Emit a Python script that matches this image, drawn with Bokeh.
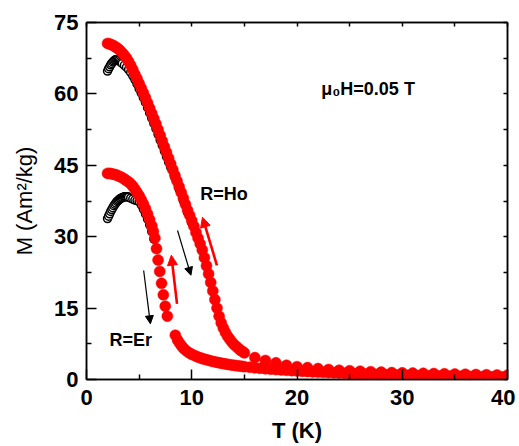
from bokeh.plotting import figure
from bokeh.models import LinearAxis, FixedTicker, Arrow, NormalHead, Range1d, Label
from bokeh.embed import file_html
from bokeh.resources import INLINE

# ---------------- data ----------------
# R=Ho, field-cooled (red filled)
ho_fc_T = [2.0, 2.2, 2.4, 2.6, 2.8, 3.0, 3.2, 3.4, 3.6, 3.8, 4.0, 4.2, 4.4, 4.6, 4.8,
           5.0, 5.2, 5.4, 5.6, 5.8, 6.0, 6.2, 6.4, 6.6, 6.8, 7.0, 7.2, 7.4, 7.6, 7.8,
           8.0, 8.2, 8.4, 8.6, 8.8, 9.0, 9.2, 9.4, 9.6, 9.8, 10.0, 10.2, 10.4, 10.6, 10.8,
           11.0, 11.2, 11.4, 11.6, 11.8, 12.0, 12.2, 12.4, 12.6, 12.8, 13.0, 13.2, 13.4,
           13.6, 13.8, 14.0, 14.2, 14.4, 14.6, 14.8, 15.0,
           16, 17, 18, 19, 20, 21, 22, 23, 24, 25, 26, 27, 28, 29, 30,
           31, 32, 33, 34, 35, 36, 37, 38, 39, 40]
ho_fc_M = [70.6, 70.5, 70.3, 70.1, 69.8, 69.5, 69.1, 68.6, 68.1, 67.5, 66.8, 66.0, 65.1, 64.1, 63.2,
           62.2, 61.2, 60.2, 59.2, 58.1, 57.0, 55.9, 54.8, 53.7, 52.5, 51.3, 50.1, 48.9, 47.7, 46.5,
           45.3, 44.1, 42.9, 41.7, 40.5, 39.3, 38.1, 36.8, 35.6, 34.5, 33.4, 32.2, 30.9, 29.7, 28.5,
           27.2, 25.6, 23.9, 22.2, 20.4, 18.6, 16.8, 15.0, 13.3, 11.9, 10.8, 9.9, 9.1,
           8.5, 7.9, 7.4, 7.0, 6.6, 6.2, 5.9, 5.6,
           4.6, 4.0, 3.5, 3.0, 2.7, 2.5, 2.3, 2.1, 1.95, 1.85, 1.75, 1.65, 1.55, 1.45, 1.4,
           1.35, 1.3, 1.25, 1.2, 1.15, 1.1, 1.05, 1.0, 0.95, 0.9]

# R=Ho, zero-field-cooled (black open)
ho_zfc_T = [2.0, 2.1, 2.2, 2.3, 2.4, 2.5, 2.6, 2.7, 2.8, 2.9, 3.0, 3.1, 3.2, 3.3, 3.4,
            3.6, 3.8, 4.0, 4.2, 4.4, 4.6, 4.8, 5.0, 5.2, 5.4, 5.6, 5.8, 6.0, 6.2, 6.4,
            6.6, 6.8, 7.0, 7.2, 7.4, 7.6, 7.8, 8.0, 8.4, 8.8, 9.2, 9.6, 10.0]
ho_zfc_M = [64.8, 65.3, 65.7, 66.1, 66.4, 66.7, 66.9, 67.1, 67.2, 67.2, 67.1, 67.0, 66.8, 66.6, 66.4,
            66.0, 65.6, 65.1, 64.5, 63.8, 63.0, 62.1, 61.1, 60.2, 59.2, 58.2, 57.1, 56.0, 54.9, 53.8,
            52.7, 51.5, 50.3, 49.2, 48.0, 46.8, 45.7, 44.6, 42.4, 40.0, 37.6, 35.1, 32.9]

# R=Er, field-cooled (red filled)
er_fc_T = [2.0, 2.2, 2.4, 2.6, 2.8, 3.0, 3.2, 3.4, 3.6, 3.8, 4.0, 4.2, 4.4, 4.6, 4.8,
           5.0, 5.2, 5.4, 5.6, 5.8, 6.0, 6.2, 6.35, 6.5,
           6.65, 6.8, 6.96, 7.13, 7.3, 7.48, 7.68,
           8.44, 8.65, 8.85, 9.05, 9.25, 9.5, 9.75, 10.0, 10.25, 10.5, 10.75, 11.0, 11.25,
           11.5, 11.75, 12.0, 12.25, 12.5, 12.75, 13.0, 13.25, 13.5, 13.75, 14.0, 14.25,
           14.5, 14.75, 15.0, 15.5, 16.0, 16.5, 17.0, 17.5, 18.0, 18.5, 19.0, 19.5, 20.0,
           20.5, 21.0, 21.5, 22.0, 22.5, 23.0, 23.5, 24.0, 24.5, 25.0, 25.5, 26.0, 26.5,
           27.0, 27.5, 28.0, 28.5, 29.0, 29.5, 30.0, 30.5, 31.0, 31.5, 32.0, 32.5, 33.0,
           33.5, 34.0, 34.5, 35.0, 35.5, 36.0, 36.5, 37.0, 37.5, 38.0, 38.5, 39.0, 39.5, 40.0]
er_fc_M = [43.3, 43.3, 43.2, 43.1, 43.0, 42.8, 42.6, 42.4, 42.1, 41.8, 41.5, 41.1, 40.6, 40.0, 39.3,
           38.6, 37.8, 36.9, 35.9, 34.8, 33.6, 32.3, 31.1, 29.7,
           27.5, 25.1, 22.7, 20.2, 17.8, 15.4, 13.3,
           9.3, 8.3, 7.6, 7.0, 6.5, 6.0, 5.6, 5.3, 5.05, 4.8, 4.6, 4.4, 4.25,
           4.1, 3.95, 3.8, 3.68, 3.56, 3.45, 3.35, 3.25, 3.15, 3.07, 2.99, 2.91,
           2.84, 2.77, 2.7, 2.58, 2.46, 2.36, 2.26, 2.17, 2.08, 2.0, 1.93, 1.86, 1.79,
           1.72, 1.66, 1.6, 1.55, 1.5, 1.45, 1.4, 1.35, 1.3, 1.26, 1.22, 1.18, 1.14,
           1.1, 1.06, 1.03, 1.0, 0.97, 0.94, 0.91, 0.88, 0.86, 0.83, 0.81, 0.79, 0.77,
           0.75, 0.73, 0.71, 0.69, 0.67, 0.65, 0.63, 0.62, 0.6, 0.58, 0.57, 0.55, 0.54, 0.52]

# R=Er, zero-field-cooled (black open)
er_zfc_T = [2.0, 2.1, 2.2, 2.3, 2.4, 2.5, 2.6, 2.7, 2.8, 2.9, 3.0, 3.1, 3.2, 3.3, 3.4,
            3.5, 3.6, 3.7, 3.8, 3.9, 4.0, 4.2, 4.4, 4.6, 4.8, 5.0, 5.2, 5.4, 5.6, 5.8,
            6.0, 6.2, 6.4]
er_zfc_M = [33.8, 34.3, 34.8, 35.3, 35.7, 36.1, 36.5, 36.8, 37.1, 37.4, 37.6, 37.8, 38.0, 38.1, 38.2,
            38.3, 38.4, 38.4, 38.4, 38.4, 38.3, 38.1, 37.9, 37.7, 37.6, 37.4, 36.7, 35.8, 34.8, 33.7,
            32.5, 31.1, 29.5]

x_ticks = [0, 10, 20, 30, 40]
x_minor = [5, 15, 25, 35]
y_ticks = [0, 15, 30, 45, 60, 75]
y_minor = [7.5, 22.5, 37.5, 52.5, 67.5]

FONT = "Liberation Sans"

p = figure(frame_width=421, frame_height=357,
           x_range=Range1d(0, 40), y_range=Range1d(0, 75),
           output_backend="svg", toolbar_location=None,
           min_border_left=86, min_border_right=8, min_border_top=22, min_border_bottom=66,
           background_fill_color="white", border_fill_color="white")
p.xgrid.visible = False
p.ygrid.visible = False
p.outline_line_color = "black"
p.outline_line_width = 1.5

for ax, ticks, minor in ((p.xaxis[0], x_ticks, x_minor), (p.yaxis[0], y_ticks, y_minor)):
    ax.ticker = FixedTicker(ticks=ticks, minor_ticks=minor)
    ax.major_tick_in = 10
    ax.major_tick_out = 0
    ax.minor_tick_in = 5
    ax.minor_tick_out = 0
    ax.major_tick_line_width = 1.5
    ax.minor_tick_line_width = 1.5
    ax.axis_line_width = 1.5
    ax.major_label_text_font = FONT
    ax.major_label_text_font_style = "bold"
    ax.major_label_text_font_size = "22px"
    ax.major_label_text_color = "black"
    ax.axis_label_text_font = FONT
    ax.axis_label_text_font_size = "22px"
    ax.axis_label_text_color = "black"

p.xaxis[0].major_label_standoff = 10
p.yaxis[0].major_label_standoff = 8
p.xaxis[0].axis_label = "T (K)"
p.xaxis[0].axis_label_text_font_style = "bold"
p.xaxis[0].axis_label_standoff = 10
p.yaxis[0].axis_label = "M (Am²/kg)"
p.yaxis[0].axis_label_text_font_style = "normal"
p.yaxis[0].axis_label_standoff = 14

top = LinearAxis(ticker=FixedTicker(ticks=x_ticks + x_minor, minor_ticks=[]))
right = LinearAxis(ticker=FixedTicker(ticks=y_ticks + y_minor, minor_ticks=[]))
for ax in (top, right):
    ax.major_tick_in = 4
    ax.major_tick_out = 0
    ax.minor_tick_in = 0
    ax.minor_tick_out = 0
    ax.major_tick_line_width = 1.5
    ax.axis_line_width = 1.5
    ax.major_label_text_color = None
    ax.major_label_text_font_size = "1px"
    ax.major_label_standoff = 0
p.add_layout(top, "above")
p.add_layout(right, "right")

# series: ZFC first (black open), FC on top (red filled)
p.scatter(ho_zfc_T, ho_zfc_M, marker="circle", size=8, fill_color="white",
          line_color="black", line_width=1.5)
p.scatter(er_zfc_T, er_zfc_M, marker="circle", size=8, fill_color="white",
          line_color="black", line_width=1.5)
p.scatter(er_fc_T, er_fc_M, marker="circle", size=11, fill_color="#ff0000",
          line_color="#ff0000", line_width=0.5)
p.scatter(ho_fc_T, ho_fc_M, marker="circle", size=11, fill_color="#ff0000",
          line_color="#ff0000", line_width=0.5)

# arrows
arrows = [
    (5.43, 22.9, 6.07, 11.7, "black", 1.2, 8),
    (8.65, 31.3, 9.92, 21.9, "black", 1.2, 8),
    (8.60, 15.9, 8.06, 26.1, "#ff0000", 2.6, 10),
    (12.39, 24.0, 11.02, 34.1, "#ff0000", 2.6, 10),
]
for xs, ys, xe, ye, col, lw, hs in arrows:
    p.add_layout(Arrow(end=NormalHead(size=hs, fill_color=col, line_color=col, line_width=1),
                       x_start=xs, y_start=ys, x_end=xe, y_end=ye,
                       line_color=col, line_width=lw))

# labels
for x, y, t in ((10.8, 38.9, "R=Ho"), (2.18, 8.2, "R=Er"), (22.3, 61.0, "μ₀H=0.05 T")):
    p.add_layout(Label(x=x, y=y, text=t, text_font=FONT, text_font_style="bold",
                       text_font_size="18px", text_color="black",
                       text_baseline="alphabetic", text_align="left"))

open("out.html", "w").write(file_html(p, INLINE))
